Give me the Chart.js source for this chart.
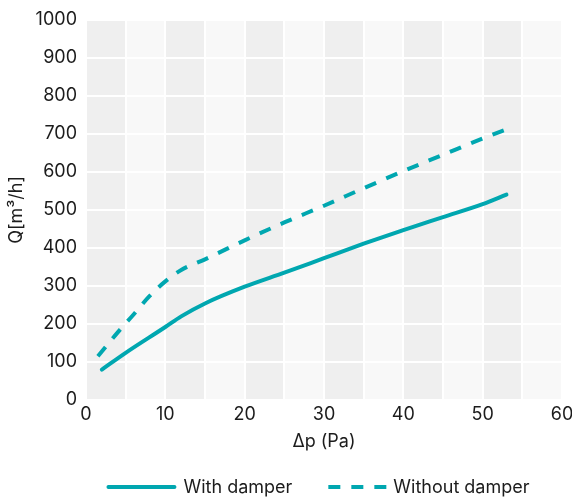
<!DOCTYPE html>
<html>
<head>
<meta charset="utf-8">
<script src="https://cdn.jsdelivr.net/npm/chart.js@4.4.1/dist/chart.umd.min.js"></script>
<style>
  html, body { margin: 0; padding: 0; background: #ffffff; }
  #wrap { width: 572px; height: 499px; position: relative; }
</style>
</head>
<body>
<div id="wrap"><canvas id="c" width="572" height="499"></canvas></div>
<script>
// ---- data ----
const xTickLabels = [0, 10, 20, 30, 40, 50, 60];
const yTickLabels = [0, 100, 200, 300, 400, 500, 600, 700, 800, 900, 1000];
const seriesNames = ['With damper', 'Without damper'];
const withDamperX = [2, 5, 10, 12, 15, 20, 25, 30, 35, 40, 45, 50, 53];
const withDamperQ = [80, 124, 192, 220, 254, 298, 335, 373, 411, 447, 481, 515, 540];
const withoutDamperX = [1.5, 4, 6, 8, 10, 12, 15, 20, 25, 30, 35, 40, 45, 50, 53.5];
const withoutDamperQ = [115, 178, 225, 273, 312, 342, 370, 420, 467, 511, 557, 602, 645, 688, 716];
const xAxisTitle = 'Δp (Pa)';
const yAxisTitle = 'Q[m³/h]';

const teal = '#00a7b0';
const FONT = 'Inter, "Liberation Sans", sans-serif';
const FS = 18;
const textColor = '#1c1c1c';

function pts(xs, ys) { return xs.map((x, i) => ({ x: x, y: ys[i] })); }

const bandPlugin = {
  id: 'bands',
  beforeDraw(chart) {
    const { ctx, chartArea: a, scales: { x } } = chart;
    ctx.save();
    ctx.fillStyle = '#f8f8f8';
    ctx.fillRect(a.left, a.top, a.right - a.left, a.bottom - a.top);
    ctx.fillStyle = '#efefef';
    const minorStep = 5;
    x.ticks.forEach(t => {
      if (t.value % 10 === 0 && t.value < x.max) {
        const l = x.getPixelForValue(t.value);
        const r = x.getPixelForValue(t.value + minorStep);
        ctx.fillRect(l, a.top, r - l, a.bottom - a.top);
      }
    });
    ctx.restore();
  }
};

const legendPlugin = {
  id: 'customLegend',
  afterDraw(chart) {
    const { ctx, chartArea: a } = chart;
    const items = [{ w: 70, gap: 7 }, { w: 65, gap: 0 }];
    const itemGap = 36;
    ctx.save();
    ctx.font = FS + 'px ' + FONT;
    let widths = chart.data.datasets.map((d, i) => items[i].w + items[i].gap + ctx.measureText(d.label).width);
    const total = widths.reduce((s, w) => s + w, 0) + itemGap * (widths.length - 1);
    let x = (a.left + a.right) / 2 - 6 - total / 2;
    const y = 487;
    chart.data.datasets.forEach((d, i) => {
      ctx.beginPath();
      ctx.strokeStyle = d.borderColor;
      ctx.lineWidth = d.borderWidth;
      ctx.setLineDash(d.borderDash || []);
      ctx.lineCap = d.borderDash ? 'butt' : 'round';
      ctx.moveTo(x + (d.borderDash ? 0 : 2), y);
      ctx.lineTo(x + items[i].w - (d.borderDash ? 0 : 2), y);
      ctx.stroke();
      ctx.setLineDash([]);
      ctx.fillStyle = textColor;
      ctx.textBaseline = 'middle';
      ctx.textAlign = 'left';
      ctx.fillText(d.label, x + items[i].w + items[i].gap, y + 1);
      x += widths[i] + itemGap;
    });
    ctx.restore();
  }
};

new Chart(document.getElementById('c'), {
  type: 'line',
  data: {
    datasets: [
      {
        label: seriesNames[0],
        data: pts(withDamperX, withDamperQ),
        borderColor: teal,
        backgroundColor: teal,
        borderWidth: 4,
        borderCapStyle: 'round',
        pointRadius: 0,
        cubicInterpolationMode: 'monotone',
        fill: false
      },
      {
        label: seriesNames[1],
        data: pts(withoutDamperX, withoutDamperQ),
        borderColor: teal,
        backgroundColor: teal,
        borderWidth: 4,
        borderDash: [12, 11],
        borderCapStyle: 'butt',
        pointRadius: 0,
        cubicInterpolationMode: 'monotone',
        fill: false
      }
    ]
  },
  options: {
    responsive: false,
    animation: false,
    devicePixelRatio: 1,
    layout: { padding: { left: 6, right: 0, top: 18, bottom: 47 } },
    plugins: {
      legend: { display: false },
      tooltip: { enabled: false }
    },
    scales: {
      x: {
        type: 'linear',
        min: xTickLabels[0],
        max: xTickLabels[xTickLabels.length - 1],
        border: { display: false },
        grid: { color: '#ffffff', lineWidth: 2, drawTicks: false },
        ticks: {
          stepSize: 5,
          padding: 4,
          color: textColor,
          font: { family: FONT, size: FS },
          maxRotation: 0,
          autoSkip: false,
          callback: v => xTickLabels.includes(v) ? String(v) : ''
        },
        title: { display: true, text: xAxisTitle, color: textColor, font: { family: FONT, size: FS }, padding: { top: 0, bottom: 0 } },
        afterFit(s) { s.height = 52; s.paddingRight = 10; s.paddingLeft = 0; }
      },
      y: {
        type: 'linear',
        min: yTickLabels[0],
        max: yTickLabels[yTickLabels.length - 1],
        border: { display: false },
        grid: { color: '#ffffff', lineWidth: 2, drawTicks: false },
        ticks: {
          stepSize: 100,
          padding: 9,
          color: textColor,
          font: { family: FONT, size: FS },
          autoSkip: false,
          callback: v => yTickLabels.includes(v) ? String(v) : ''
        },
        title: { display: true, text: yAxisTitle, color: textColor, font: { family: FONT, size: FS }, padding: { top: 0, bottom: 0 } },
        afterFit(s) { s.width = 80; }
      }
    }
  },
  plugins: [bandPlugin, legendPlugin]
});
</script>
</body>
</html>
